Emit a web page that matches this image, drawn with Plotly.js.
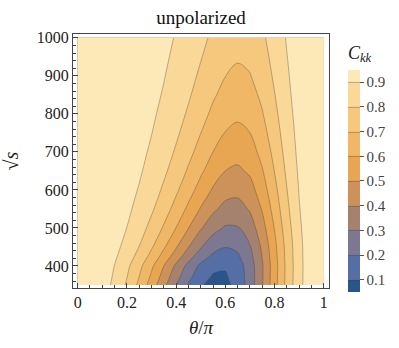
<!DOCTYPE html>
<html>
<head>
<meta charset="utf-8">
<script src="https://cdn.plot.ly/plotly-3.0.1.min.js"></script>
<style>
  html, body { margin: 0; padding: 0; background: #fff; }
  #chart { width: 399px; height: 348px; }
</style>
</head>
<body>
<div id="chart"></div>
<script>
// θ/π grid (columns)
const thetaOverPi = [0, 0.05, 0.1, 0.15, 0.2, 0.25, 0.3, 0.35, 0.4, 0.45, 0.5,
  0.55, 0.6, 0.65, 0.7, 0.75, 0.8, 0.85, 0.9, 0.95, 1];

// √s grid (rows)
const sqrtS = [350, 375, 400, 425, 450, 500, 550, 600, 650, 700, 750, 800, 850, 900, 950, 1000];

// C_kk, one row per √s value
const ckk = [
  [1, 0.986, 0.945, 0.877, 0.787, 0.677, 0.554, 0.426, 0.301, 0.192, 0.110, 0.068, 0.075, 0.134, 0.244, 0.393, 0.563, 0.731, 0.873, 0.967, 1],
  [1, 0.987, 0.950, 0.889, 0.805, 0.703, 0.588, 0.464, 0.342, 0.231, 0.145, 0.095, 0.092, 0.143, 0.246, 0.391, 0.560, 0.728, 0.871, 0.966, 1],
  [1, 0.989, 0.954, 0.898, 0.822, 0.727, 0.618, 0.500, 0.380, 0.269, 0.178, 0.121, 0.110, 0.153, 0.249, 0.390, 0.557, 0.726, 0.870, 0.966, 1],
  [1, 0.990, 0.962, 0.914, 0.849, 0.767, 0.670, 0.562, 0.450, 0.341, 0.246, 0.181, 0.157, 0.186, 0.271, 0.404, 0.565, 0.731, 0.872, 0.967, 1],
  [1, 0.992, 0.967, 0.927, 0.870, 0.798, 0.711, 0.613, 0.508, 0.403, 0.307, 0.236, 0.202, 0.219, 0.293, 0.418, 0.574, 0.735, 0.874, 0.967, 1],
  [1, 0.994, 0.975, 0.944, 0.899, 0.842, 0.771, 0.689, 0.598, 0.502, 0.410, 0.334, 0.290, 0.293, 0.351, 0.461, 0.605, 0.755, 0.884, 0.970, 1],
  [1, 0.995, 0.980, 0.955, 0.919, 0.872, 0.814, 0.744, 0.665, 0.579, 0.493, 0.419, 0.370, 0.364, 0.410, 0.508, 0.640, 0.778, 0.895, 0.973, 1],
  [1, 0.996, 0.984, 0.963, 0.933, 0.894, 0.845, 0.785, 0.716, 0.640, 0.561, 0.489, 0.439, 0.427, 0.464, 0.552, 0.672, 0.798, 0.905, 0.976, 1],
  [1, 0.997, 0.986, 0.969, 0.944, 0.911, 0.869, 0.817, 0.757, 0.688, 0.617, 0.549, 0.500, 0.484, 0.515, 0.593, 0.703, 0.818, 0.915, 0.978, 1],
  [1, 0.997, 0.988, 0.974, 0.952, 0.924, 0.887, 0.842, 0.789, 0.728, 0.663, 0.600, 0.552, 0.534, 0.560, 0.630, 0.730, 0.836, 0.924, 0.980, 1],
  [1, 0.998, 0.990, 0.977, 0.959, 0.934, 0.902, 0.863, 0.815, 0.761, 0.701, 0.643, 0.597, 0.578, 0.600, 0.664, 0.755, 0.851, 0.931, 0.982, 1],
  [1, 0.998, 0.991, 0.980, 0.964, 0.942, 0.914, 0.879, 0.837, 0.788, 0.734, 0.680, 0.636, 0.617, 0.636, 0.694, 0.777, 0.865, 0.938, 0.984, 1],
  [1, 0.998, 0.992, 0.982, 0.968, 0.949, 0.924, 0.893, 0.855, 0.811, 0.761, 0.712, 0.671, 0.652, 0.667, 0.720, 0.797, 0.878, 0.944, 0.986, 1],
  [1, 0.998, 0.993, 0.984, 0.972, 0.955, 0.932, 0.904, 0.870, 0.830, 0.785, 0.739, 0.701, 0.682, 0.696, 0.744, 0.815, 0.888, 0.949, 0.987, 1],
  [1, 0.998, 0.994, 0.986, 0.975, 0.959, 0.939, 0.914, 0.883, 0.847, 0.805, 0.763, 0.727, 0.709, 0.721, 0.765, 0.830, 0.898, 0.953, 0.988, 1],
  [1, 0.999, 0.995, 0.988, 0.977, 0.963, 0.945, 0.923, 0.894, 0.861, 0.823, 0.784, 0.750, 0.733, 0.743, 0.784, 0.844, 0.907, 0.957, 0.989, 1]
];

const levelTicks = [0.1, 0.2, 0.3, 0.4, 0.5, 0.6, 0.7, 0.8, 0.9];
const xTicks = [0, 0.2, 0.4, 0.6, 0.8, 1];
const xTickText = ['0', '0.2', '0.4', '0.6', '0.8', '1'];
const yTicks = [400, 500, 600, 700, 800, 900, 1000];

// one colour per band, lowest band first
const bandColors = ['#28558c', '#556ea5', '#7d7891', '#a5826e', '#cd915a',
  '#e8a652', '#f0b866', '#f5c87d', '#f9d898', '#fde9b7'];
const colorscale = bandColors.map((c, i) => [i / (bandColors.length - 1), c]);

const serif = 'Liberation Serif';
const frame = '#444';

const data = [{
  type: 'contour',
  x: thetaOverPi,
  y: sqrtS,
  z: ckk,
  autocontour: false,
  contours: { start: 0.1, end: 0.9, size: 0.1, coloring: 'fill', showlines: true },
  line: { color: 'rgba(70,60,50,0.5)', width: 0.7, smoothing: 1 },
  colorscale: colorscale,
  hoverinfo: 'skip',
  colorbar: {
    x: 1.074, xanchor: 'left', xpad: 0,
    y: 0.476, yanchor: 'middle', ypad: 0,
    thickness: 12, thicknessmode: 'pixels',
    len: 250, lenmode: 'pixels',
    outlinewidth: 0,
    tickvals: levelTicks,
    ticktext: levelTicks.map(v => v.toFixed(1)),
    ticks: 'outside', ticklen: 4, tickcolor: '#555',
    tickfont: { family: serif, size: 15, color: '#444' },
    title: { text: '<i>C<sub>kk</sub></i>', side: 'top', font: { family: serif, size: 18, color: '#222' } },
  },
}];

const layout = {
  width: 399,
  height: 348,
  margin: { l: 73, r: 70, t: 34, b: 60 },
  paper_bgcolor: '#fff',
  plot_bgcolor: '#fff',
  font: { family: serif, color: '#222' },
  title: {
    text: 'unpolarized',
    font: { family: serif, size: 19, color: '#111' },
    x: 0.5, xref: 'paper', y: 1 - 17 / 348, yanchor: 'middle',
  },
  xaxis: {
    range: [-0.019, 1.021],
    tickvals: xTicks,
    ticktext: xTickText,
    ticks: 'inside', ticklen: 5, tickcolor: frame,
    minor: { ticks: 'inside', ticklen: 3, dtick: 0.05, tick0: 0, tickcolor: frame, showgrid: false },
    showline: true, linecolor: frame, linewidth: 1, mirror: true,
    showgrid: false, zeroline: false,
    tickfont: { family: serif, size: 16, color: '#222' },
    title: { text: '<i>θ</i>/<i>π</i>', font: { family: serif, size: 19, color: '#222' }, standoff: 10 },
  },
  yaxis: {
    range: [342, 1010],
    tickvals: yTicks,
    ticks: 'inside', ticklen: 5, tickcolor: frame,
    minor: { ticks: 'inside', ticklen: 3, dtick: 20, tick0: 0, tickcolor: frame, showgrid: false },
    showline: true, linecolor: frame, linewidth: 1, mirror: true,
    showgrid: false, zeroline: false,
    tickfont: { family: serif, size: 16, color: '#222' },
    title: { text: '√<i>s</i>', font: { family: serif, size: 20, color: '#222' }, standoff: 13 },
  },
};

Plotly.newPlot('chart', data, layout, { displayModeBar: false, staticPlot: true });
</script>
</body>
</html>
